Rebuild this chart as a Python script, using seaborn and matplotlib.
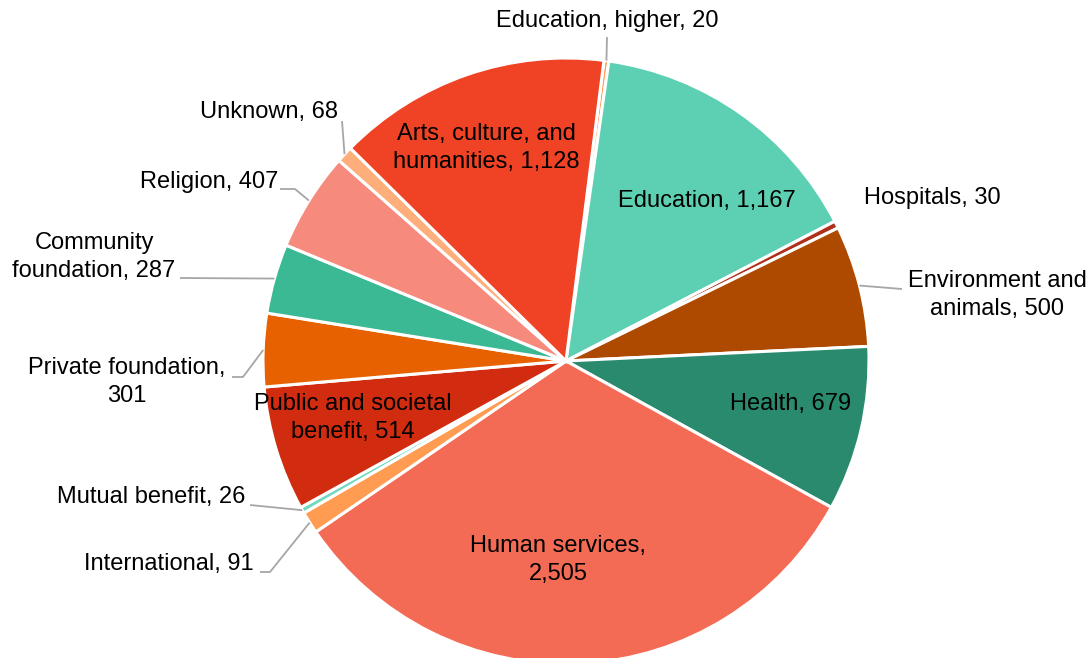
import numpy as np
import matplotlib
matplotlib.use("Agg")
import matplotlib.pyplot as plt
import seaborn as sns

# ---- data (clockwise from the top) ----
categories = ["Education, higher", "Education", "Hospitals", "Environment and animals",
              "Health", "Human services", "International", "Mutual benefit",
              "Public and societal benefit", "Private foundation", "Community foundation",
              "Religion", "Unknown", "Arts, culture, and humanities"]
counts = [20, 1167, 30, 500, 679, 2505, 91, 26, 514, 301, 287, 407, 68, 1128]
colors = ["#FF9F5A", "#5DCFB2", "#B0301A", "#AE4A00", "#2A8A6E", "#F46B55", "#FF9C52",
          "#72D9C0", "#D12B10", "#E86100", "#3AB994", "#F68B7D", "#FDAE7B", "#F04224"]

# how each label is broken onto lines
label_fmt = {
    "Environment and animals": "Environment and\nanimals, {v}",
    "Human services": "Human services,\n{v}",
    "Public and societal benefit": "Public and societal\nbenefit, {v}",
    "Private foundation": "Private foundation,\n{v}",
    "Community foundation": "Community\nfoundation, {v}",
    "Arts, culture, and humanities": "Arts, culture, and\nhumanities, {v}",
}

# ---- style ----
sns.set_theme(style="white")
plt.rcParams["font.family"] = ["Liberation Sans", "DejaVu Sans"]

W, H = 1092, 658
fig = plt.figure(figsize=(W / 100, H / 100), dpi=100)
ax = fig.add_axes([0, 0, 1, 1])


def P(x, y):
    # reference pixel coords (y down) -> axes coords (y up)
    return (x, H - y)


cx, cy, R = 566, 361, 303
wedges, _ = ax.pie(counts, colors=colors, startangle=82.8, counterclock=False,
                   center=P(cx, cy), radius=R,
                   wedgeprops=dict(edgecolor="white", linewidth=2.2))
ax.set_xlim(0, W)
ax.set_ylim(0, H)
ax.set_aspect("equal")
ax.axis("off")

# label placement: text pos, alignment, leader path (elbow/end points)
layout = {
    "Education, higher": ((607, 21), "center", [(607, 37)]),
    "Education": ((707, 201), "center", None),
    "Hospitals": ((932, 198), "center", None),
    "Environment and animals": ((997, 295), "center", [(902, 289)]),
    "Health": ((791, 404), "center", None),
    "Human services": ((558, 560), "center", None),
    "International": ((254, 564), "right", [(270, 572), (260, 572)]),
    "Mutual benefit": ((245, 497), "right", [(250, 505)]),
    "Public and societal benefit": ((353, 418), "center", None),
    "Private foundation": ((127, 382), "center", [(243, 377), (232, 377)]),
    "Community foundation": ((94, 257), "center", [(180, 278)]),
    "Religion": ((278, 182), "right", [(295, 189), (280, 189)]),
    "Unknown": ((338, 112), "right", [(342, 121)]),
    "Arts, culture, and humanities": ((486, 148), "center", None),
}

for w, cat, v in zip(wedges, categories, counts):
    fmt = label_fmt.get(cat, cat + ", {v}")
    txt = fmt.format(v=f"{v:,}")
    (tx, ty), ha, path = layout[cat]
    ax.text(*P(tx, ty), txt, ha=ha, va="center", multialignment="center",
            fontsize=17, color="#000000", linespacing=1.3)
    if path:
        th = np.deg2rad((w.theta1 + w.theta2) / 2)
        ax0 = cx + R * np.cos(th)
        ay0 = (H - cy) + R * np.sin(th)
        pts = [(ax0, ay0)] + [P(px, py) for px, py in path]
        xs, ys = zip(*pts)
        ax.plot(xs, ys, color="#A6A6A6", lw=1.3, solid_capstyle="butt")

fig.savefig("out.png", dpi=100, facecolor="white")
